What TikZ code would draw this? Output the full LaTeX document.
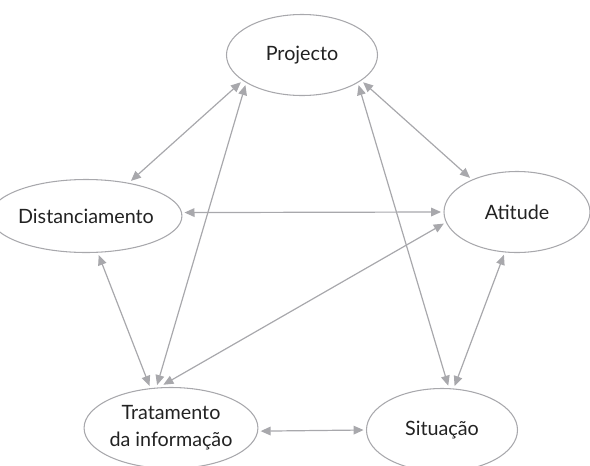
\documentclass[tikz,border=0pt]{standalone}
\usepackage{fontspec}
\setmainfont{Lato}
\usetikzlibrary{arrows.meta,shapes.geometric}
\definecolor{linegray}{HTML}{A8A8AC}
\definecolor{textgray}{HTML}{222222}
\tikzset{
  concept/.style={ellipse,draw=linegray,line width=0.8pt,inner sep=0pt,outer sep=2.2pt,
    text=textgray,font=\fontsize{14.8pt}{20pt}\selectfont,align=center},
  link/.style={draw=linegray,line width=0.9pt,
    {Triangle[length=7.5pt,width=6.5pt]}-{Triangle[length=7.5pt,width=6.5pt]}}
}
\begin{document}
\begin{tikzpicture}[x=0.75pt,y=-0.75pt]
\useasboundingbox (0,0) rectangle (590,465);
\node[concept,minimum width=113.25pt,minimum height=60.75pt] (proj) at (302,55) {Projecto};
\node[concept,minimum width=114pt,minimum height=54.75pt] (dist) at (86,216) {Distanciamento};
\node[concept,minimum width=109.5pt,minimum height=60.75pt] (atit) at (517,212) {Atitude};
\node[concept,minimum width=107.25pt,minimum height=60.75pt] (trat) at (171,428) {Tratamento\\da informação};
\node[concept,minimum width=113.25pt,minimum height=62.25pt] (sit) at (442,430) {Situação};

\path[link] (proj.204.3) -- (dist.38.8);
\path[link] (proj.208.1) -- (trat.108.4);
\path[link] (proj.336.4) -- (atit.144);
\path[link] (proj.332.3) -- (sit.82.7);
\path[link] (dist.2.3) -- (atit.180);
\path[link] (dist.288.4) -- (trat.117.1);
\path[link] (atit.189.2) -- (trat.100.1);
\path[link] (atit.253.1) -- (sit.74.5);
\path[link] (trat.-2.4) -- (sit.180.8);
\end{tikzpicture}
\end{document}
